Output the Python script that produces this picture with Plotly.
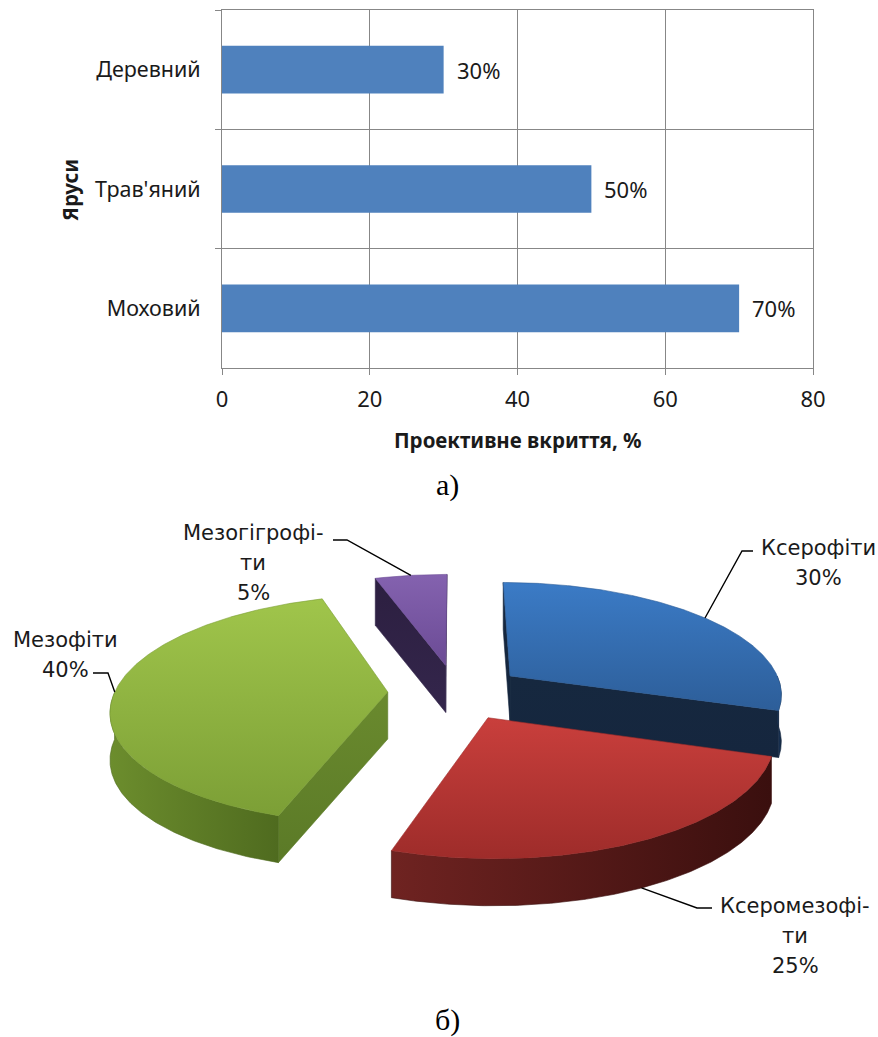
import numpy as np
import plotly.graph_objects as go

# ---------------- data: bar chart (а) ----------------
tiers = ["Деревний", "Трав'яний", "Моховий"]
cover = [30, 50, 70]
cover_text = ["30%", "50%", "70%"]
x_ticks = [0, 20, 40, 60, 80]
x_title = "Проективне вкриття, %"
y_title = "Яруси"

# ---------------- data: pie chart (б) ----------------
groups = ["Ксерофіти", "Ксеромезофіти", "Мезофіти", "Мезогігрофіти"]
shares = [30, 25, 40, 5]
group_name_lines = [["Ксерофіти"], ["Ксеромезофі-", "ти"], ["Мезофіти"], ["Мезогігрофі-", "ти"]]

# ---------------- styles ----------------
W, H = 878, 1037
FONT = "Noto Sans"
PIE_FONT = "DejaVu Sans"
GRID = "#878787"
BAR = "#4F81BD"
TXT = "#1a1a1a"

# (upper colour, lower colour) for top faces; (left, right) for outer sides
top_colors = [("#3B7BC6", "#2D5E99"), ("#C93F3C", "#9E2C2A"), ("#A0C54B", "#7C9F36"), ("#8462AF", "#6B4B95")]
side_colors = [("#1E3C63", "#14273F"), ("#6F2321", "#3A0F0E"), ("#6C8D2D", "#4F6B1F"), ("#3A2A55", "#2A1D3D")]
cut_colors = [("#16283F", "#15263E"), ("#7A2624", "#5A1A19"), ("#6A8A2E", "#5B7A27"), ("#2C1F40", "#34264C")]

# pie geometry (pixel space of the lower panel)
CX, CY = 456.0, 692.0
A, B, K = 273.0, 111.7, 0.148
EXPLODE, DEPTH = 0.25, 47.0
START = 90.0

label_pos = [(818, 548), (795, 906), (65, 640), (253, 533)]
LINE_STEP = 30
leader_elbows = [[(742, 551), (753, 551)], [(697, 908), (712, 908)],
                 [(108, 673), (93, 673)], [(347, 540), (333, 540)]]

fig = go.Figure()

# ---------------- bar chart ----------------
fig.add_trace(go.Bar(
    x=cover, y=tiers, orientation="h", marker=dict(color=BAR, line=dict(width=0)),
    width=0.4, hoverinfo="skip", showlegend=False, xaxis="x", yaxis="y"))

for v, t, lab in zip(cover, tiers, cover_text):
    fig.add_annotation(x=v, y=t, xref="x", yref="y", text=lab, showarrow=False,
                       xanchor="left", xshift=11, font=dict(family=FONT, size=22, color=TXT))


def project(X, Y, z=0.0):
    s = 1.0 / (1.0 + K * Y)
    return CX + A * X * s, CY - B * Y * s + z


def runs(mask):
    out, cur = [], []
    for i, m in enumerate(mask):
        if m:
            cur.append(i)
        elif cur:
            out.append(cur)
            cur = []
    if cur:
        out.append(cur)
    return out


def poly(xs, ys, c_first, c_second, gtype="vertical"):
    # vertical gradient: first colour should be at the top of the screen
    if gtype == "vertical":
        scale = [[0, c_second], [1, c_first]]
        edge = c_second
    else:
        scale = [[0, c_first], [1, c_second]]
        edge = c_second
    fig.add_trace(go.Scatter(
        x=list(xs) + [xs[0]], y=list(ys) + [ys[0]], mode="lines", fill="toself",
        line=dict(width=0.6, color=edge),
        fillgradient=dict(type=gtype, colorscale=scale),
        hoverinfo="skip", showlegend=False, xaxis="x2", yaxis="y2"))


total = float(sum(shares))
slices = []
acc = 0.0
for i, v in enumerate(shares):
    a0 = START - acc / total * 360.0
    a1 = a0 - v / total * 360.0
    acc += v
    m = np.radians((a0 + a1) / 2)
    ox, oy = EXPLODE * np.cos(m), EXPLODE * np.sin(m)
    slices.append(dict(i=i, a0=a0, a1=a1, m=m, ox=ox, oy=oy))

viewer = np.array([0.0, -1.0 / K])
for sl in sorted(slices, key=lambda d: -d["oy"]):
    i, a0, a1, ox, oy = sl["i"], sl["a0"], sl["a1"], sl["ox"], sl["oy"]
    th = np.radians(np.linspace(a1, a0, int(abs(a0 - a1)) * 2 + 2))
    X = ox + np.cos(th)
    Y = oy + np.sin(th)
    # cut faces
    for edge, nrm in ((a1, a1 - 90), (a0, a0 + 90)):
        n = np.array([np.cos(np.radians(nrm)), np.sin(np.radians(nrm))])
        if n.dot(viewer - np.array([ox, oy])) > 0:
            ex, ey = ox + np.cos(np.radians(edge)), oy + np.sin(np.radians(edge))
            p1 = project(ox, oy)
            p2 = project(ex, ey)
            p3 = project(ex, ey, DEPTH)
            p4 = project(ox, oy, DEPTH)
            poly([p1[0], p2[0], p3[0], p4[0]], [p1[1], p2[1], p3[1], p4[1]], *cut_colors[i])
    # outer side
    for r in runs(np.sin(th) < 0.0):
        if len(r) < 2:
            continue
        tx, ty = project(X[r], Y[r])
        bx, by = project(X[r], Y[r], DEPTH)
        poly(list(tx) + list(bx[::-1]), list(ty) + list(by[::-1]), *side_colors[i], gtype="horizontal")
    # top face
    tx, ty = project(X, Y)
    px, py = project(ox, oy)
    poly([px] + list(tx), [py] + list(ty), *top_colors[i])

# labels and leader lines
for sl in slices:
    i, m, ox, oy = sl["i"], sl["m"], sl["ox"], sl["oy"]
    z = DEPTH if np.sin(m) < -0.5 else 0.0
    sx, sy = project(ox + np.cos(m), oy + np.sin(m), z)
    lx = [sx] + [p[0] for p in leader_elbows[i]]
    ly = [sy] + [p[1] for p in leader_elbows[i]]
    fig.add_trace(go.Scatter(x=lx, y=ly, mode="lines", line=dict(color="#000000", width=1.4),
                             hoverinfo="skip", showlegend=False, xaxis="x2", yaxis="y2"))
    lines = group_name_lines[i] + [f"{shares[i]}%"]
    cx, cy = label_pos[i]
    for k, t in enumerate(lines):
        fig.add_annotation(x=cx, y=cy + k * LINE_STEP, xref="x2", yref="y2", text=t, showarrow=False,
                           xanchor="center", yanchor="middle",
                           font=dict(family=PIE_FONT, size=21, color=TXT))

# titles / captions
fig.add_annotation(x=(222 + 813) / 2 / W, y=1 - 440 / H, xref="paper", yref="paper", text=f"<b>{x_title}</b>",
                   showarrow=False, xanchor="center", yanchor="middle", font=dict(family=FONT, size=20.5, color=TXT))
fig.add_annotation(x=70 / W, y=1 - 190 / H, xref="paper", yref="paper", text=f"<b>{y_title}</b>", textangle=-90,
                   showarrow=False, xanchor="center", yanchor="middle", font=dict(family=FONT, size=20.5, color=TXT))
fig.add_annotation(x=447 / W, y=1 - 485 / H, xref="paper", yref="paper", text="а)",
                   showarrow=False, xanchor="center", yanchor="middle", font=dict(family="Liberation Serif", size=30, color="#000"))
fig.add_annotation(x=447 / W, y=1 - 1020 / H, xref="paper", yref="paper", text="б)",
                   showarrow=False, xanchor="center", yanchor="middle", font=dict(family="Liberation Serif", size=30, color="#000"))

fig.update_layout(
    width=W, height=H, margin=dict(l=0, r=0, t=0, b=0, autoexpand=False),
    paper_bgcolor="white", plot_bgcolor="rgba(0,0,0,0)", showlegend=False,
    xaxis=dict(domain=[222 / W, 813 / W], range=[0, 80], tickvals=x_ticks, showgrid=True, gridcolor=GRID,
               gridwidth=1, showline=True, linecolor=GRID, mirror=True, ticks="outside", ticklen=6,
               tickcolor=GRID, zeroline=False, tickfont=dict(family=FONT, size=22, color=TXT),
               ticklabelstandoff=6, automargin=False, fixedrange=True),
    yaxis=dict(domain=[1 - 368 / H, 1 - 10 / H], type="category", categoryorder="array", categoryarray=tiers,
               autorange="reversed", tickson="boundaries", showgrid=True, gridcolor=GRID, gridwidth=1,
               showline=True, linecolor=GRID, mirror=True, ticks="outside", ticklen=6, tickcolor=GRID,
               ticklabelstandoff=16, tickfont=dict(family=FONT, size=21.5, color=TXT),
               automargin=False, fixedrange=True),
    xaxis2=dict(domain=[0, 1], range=[0, W], visible=False, fixedrange=True, anchor="y2", automargin=False),
    yaxis2=dict(domain=[0, 0.5], range=[H, H * 0.5], visible=False, fixedrange=True, anchor="x2", automargin=False),
)

fig.write_html("out.html")
